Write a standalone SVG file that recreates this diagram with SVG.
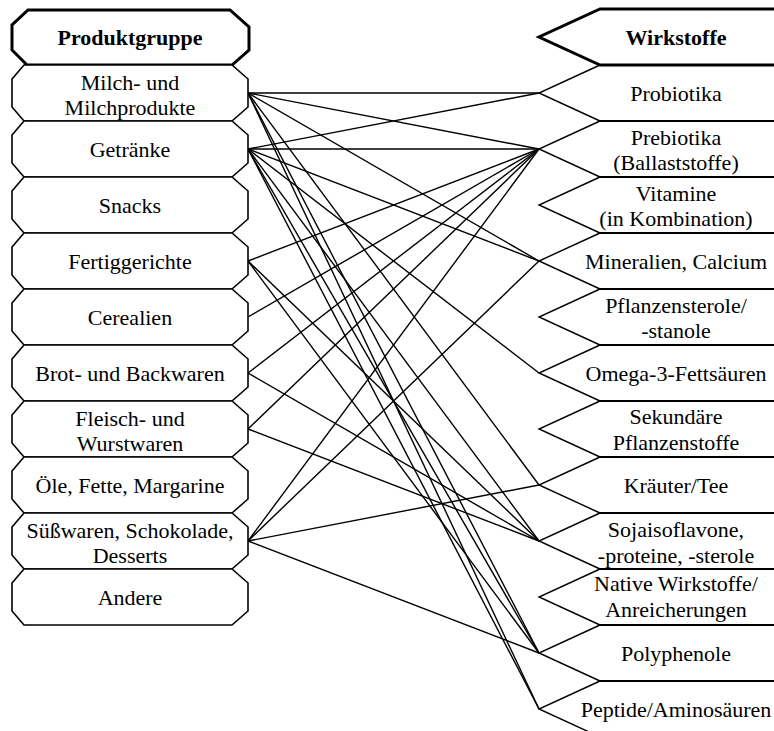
<svg xmlns="http://www.w3.org/2000/svg" width="774" height="731" viewBox="0 0 774 731">
<style>
.box{fill:#fff;stroke:#000;stroke-width:1.6;stroke-linejoin:miter}
.hdr{fill:#fff;stroke:#000;stroke-width:3;stroke-linejoin:miter}
.chev{fill:none;stroke:#000;stroke-width:1.4}
.hl{fill:none;stroke:#000;stroke-width:2.2}
.con line{stroke:#000;stroke-width:1.4}
text{font-family:"Liberation Serif","Times New Roman",serif;font-size:22px;fill:#000;text-anchor:middle}
.b{font-weight:bold}
</style>
<rect width="774" height="731" fill="#fff"/>
<g id="connectors" class="con">
<line x1="248" y1="93" x2="539" y2="93"/>
<line x1="248" y1="93" x2="539" y2="149"/>
<line x1="248" y1="93" x2="539" y2="261"/>
<line x1="248" y1="93" x2="539" y2="485"/>
<line x1="248" y1="93" x2="539" y2="653"/>
<line x1="248" y1="93" x2="539" y2="709"/>
<line x1="248" y1="149" x2="539" y2="93"/>
<line x1="248" y1="149" x2="539" y2="149"/>
<line x1="248" y1="149" x2="539" y2="261"/>
<line x1="248" y1="149" x2="539" y2="373"/>
<line x1="248" y1="149" x2="539" y2="541"/>
<line x1="248" y1="149" x2="539" y2="653"/>
<line x1="248" y1="149" x2="539" y2="709"/>
<line x1="248" y1="261" x2="539" y2="149"/>
<line x1="248" y1="261" x2="539" y2="541"/>
<line x1="248" y1="261" x2="539" y2="653"/>
<line x1="248" y1="317" x2="539" y2="149"/>
<line x1="248" y1="373" x2="539" y2="149"/>
<line x1="248" y1="373" x2="539" y2="541"/>
<line x1="248" y1="429" x2="539" y2="149"/>
<line x1="248" y1="429" x2="539" y2="541"/>
<line x1="248" y1="541" x2="539" y2="149"/>
<line x1="248" y1="541" x2="539" y2="261"/>
<line x1="248" y1="541" x2="539" y2="485"/>
<line x1="248" y1="541" x2="539" y2="653"/>
</g>
<g id="produktgruppe">
<path class="hdr" d="M28,10 H230 L249,27 V50 L232,65 H27 L12,50 V25 Z"/>
<text class="b" x="130" y="45">Produktgruppe</text>
</g>
<g id="milch"><path class="box" d="M24,65 H232 L248,79 V107 L232,121 H24 L12,107 V79 Z"/><text x="130" y="90">Milch- und</text><text x="130" y="115">Milchprodukte</text></g>
<g id="getraenke"><path class="box" d="M24,121 H232 L248,135 V163 L232,177 H24 L12,163 V135 Z"/><text x="130" y="157">Getränke</text></g>
<g id="snacks"><path class="box" d="M24,177 H232 L248,191 V219 L232,233 H24 L12,219 V191 Z"/><text x="130" y="213">Snacks</text></g>
<g id="fertiggerichte"><path class="box" d="M24,233 H232 L248,247 V275 L232,289 H24 L12,275 V247 Z"/><text x="130" y="269">Fertiggerichte</text></g>
<g id="cerealien"><path class="box" d="M24,289 H232 L248,303 V331 L232,345 H24 L12,331 V303 Z"/><text x="130" y="325">Cerealien</text></g>
<g id="brot"><path class="box" d="M24,345 H232 L248,359 V387 L232,401 H24 L12,387 V359 Z"/><text x="130" y="381">Brot- und Backwaren</text></g>
<g id="fleisch"><path class="box" d="M24,401 H232 L248,415 V443 L232,457 H24 L12,443 V415 Z"/><text x="130" y="426">Fleisch- und</text><text x="130" y="451">Wurstwaren</text></g>
<g id="oele"><path class="box" d="M24,457 H232 L248,471 V499 L232,513 H24 L12,499 V471 Z"/><text x="130" y="493">Öle, Fette, Margarine</text></g>
<g id="suesswaren"><path class="box" d="M24,513 H232 L248,527 V555 L232,569 H24 L12,555 V527 Z"/><text x="130" y="538">Süßwaren, Schokolade,</text><text x="130" y="563">Desserts</text></g>
<g id="andere"><path class="box" d="M24,569 H232 L248,583 V611 L232,625 H24 L12,611 V583 Z"/><text x="130" y="605">Andere</text></g>

<g id="wirkstoffe">
<path class="hdr" d="M776,9 H600 L539,37 L600,65 H776"/>
<text class="b" x="676" y="45">Wirkstoffe</text>
</g>
<g id="probiotika"><path class="chev" d="M600,65 L539,93 L600,121"/><path class="hl" d="M600,121 H776"/><text x="676" y="101">Probiotika</text></g>
<g id="prebiotika"><path class="chev" d="M600,121 L539,149 L600,177"/><path class="hl" d="M600,177 H776"/><text x="676" y="145">Prebiotika</text><text x="676" y="170">(Ballaststoffe)</text></g>
<g id="vitamine"><path class="chev" d="M600,177 L539,205 L600,233"/><path class="hl" d="M600,233 H776"/><text x="676" y="201">Vitamine</text><text x="676" y="226">(in Kombination)</text></g>
<g id="mineralien"><path class="chev" d="M600,233 L539,261 L600,289"/><path class="hl" d="M600,289 H776"/><text x="676" y="269">Mineralien, Calcium</text></g>
<g id="pflanzensterole"><path class="chev" d="M600,289 L539,317 L600,345"/><path class="hl" d="M600,345 H776"/><text x="676" y="313">Pflanzensterole/</text><text x="676" y="338">-stanole</text></g>
<g id="omega3"><path class="chev" d="M600,345 L539,373 L600,401"/><path class="hl" d="M600,401 H776"/><text x="676" y="381">Omega-3-Fettsäuren</text></g>
<g id="sekundaere"><path class="chev" d="M600,401 L539,429 L600,457"/><path class="hl" d="M600,457 H776"/><text x="676" y="424">Sekundäre</text><text x="676" y="450">Pflanzenstoffe</text></g>
<g id="kraeuter"><path class="chev" d="M600,457 L539,485 L600,513"/><path class="hl" d="M600,513 H776"/><text x="676" y="493">Kräuter/Tee</text></g>
<g id="soja"><path class="chev" d="M600,513 L539,541 L600,569"/><path class="hl" d="M600,569 H776"/><text x="676" y="537">Sojaisoflavone,</text><text x="676" y="563">-proteine, -sterole</text></g>
<g id="native"><path class="chev" d="M600,569 L539,597 L600,625"/><path class="hl" d="M600,625 H776"/><text x="676" y="591">Native Wirkstoffe/</text><text x="676" y="617">Anreicherungen</text></g>
<g id="polyphenole"><path class="chev" d="M600,625 L539,653 L600,681"/><path class="hl" d="M600,681 H776"/><text x="676" y="661">Polyphenole</text></g>
<g id="peptide"><path class="chev" d="M600,681 L539,709 L600,737"/><text x="676" y="717">Peptide/Aminosäuren</text></g>
</svg>
